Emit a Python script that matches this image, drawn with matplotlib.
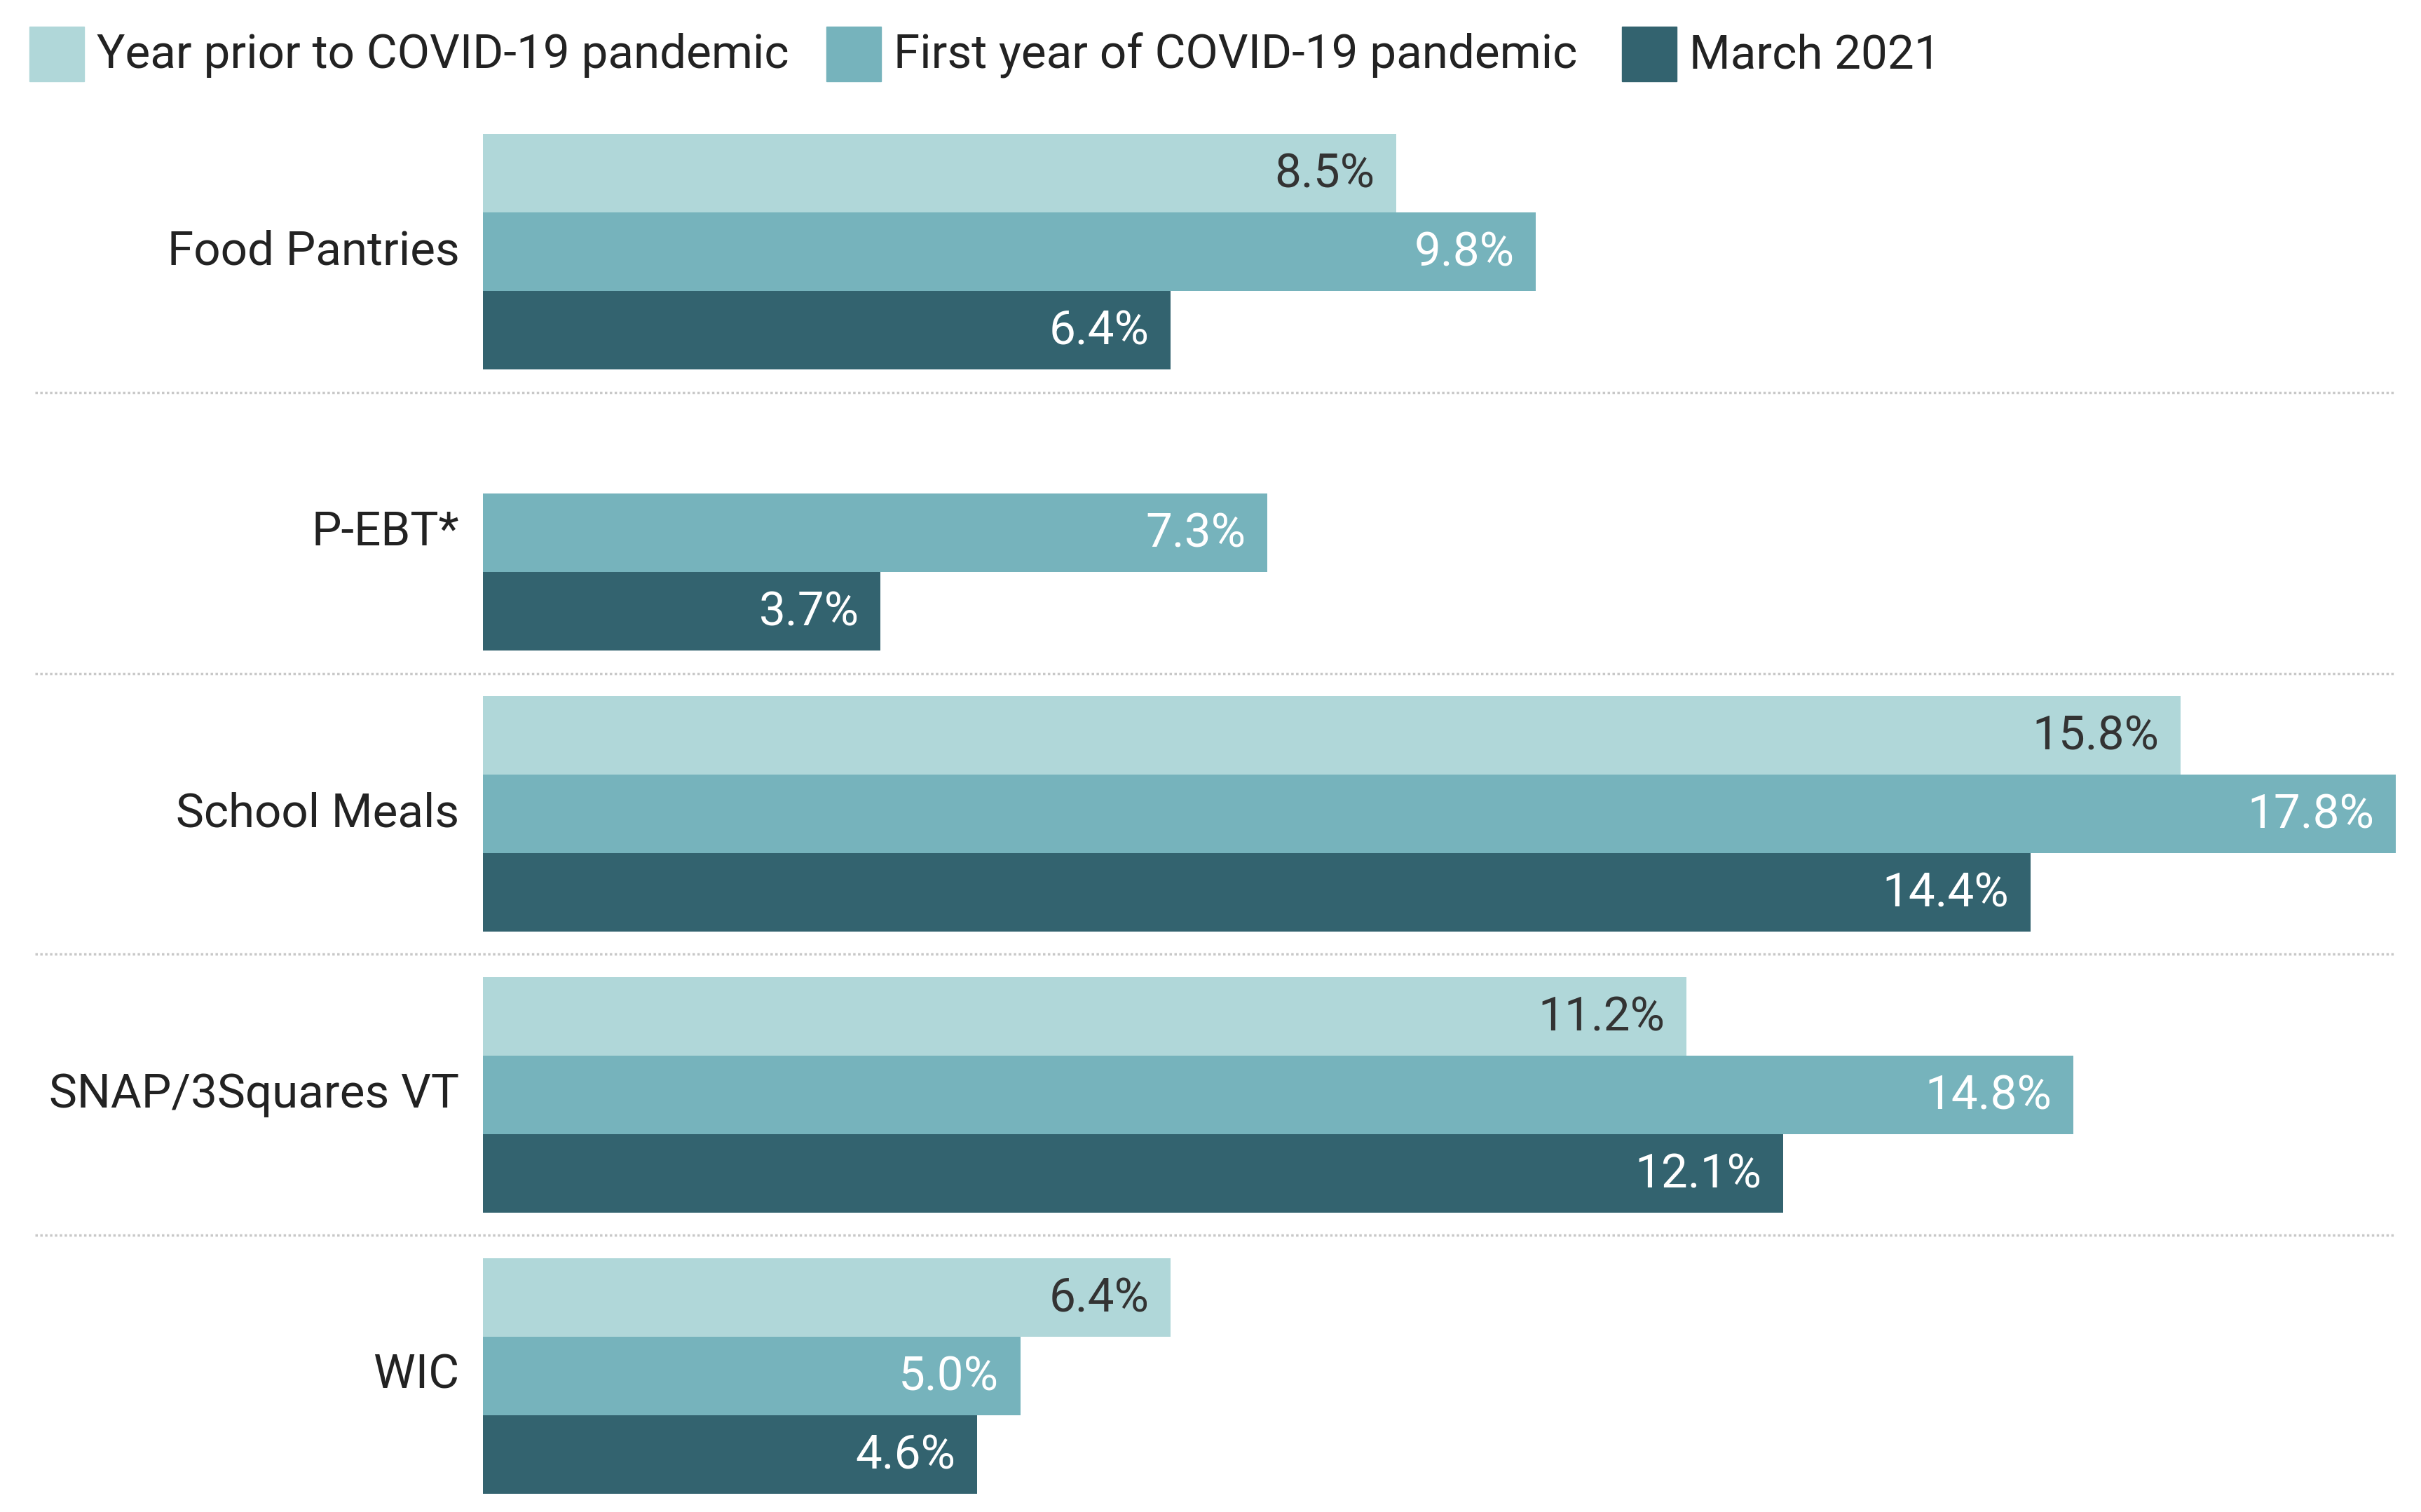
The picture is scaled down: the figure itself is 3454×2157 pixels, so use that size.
import numpy as np
import matplotlib
matplotlib.use("Agg")
import matplotlib.pyplot as plt
from matplotlib.patches import Rectangle

plt.rcParams['font.family'] = ['Roboto', 'DejaVu Sans']

# data
programs = ['Food Pantries', 'P-EBT*', 'School Meals', 'SNAP/3Squares VT', 'WIC']
series = ['Year prior to COVID-19 pandemic', 'First year of COVID-19 pandemic', 'March 2021']
prior_year = [8.5, np.nan, 15.8, 11.2, 6.4]
first_year = [9.8, 7.3, 17.8, 14.8, 5.0]
march_2021 = [6.4, 3.7, 14.4, 12.1, 4.6]

colors = ['#b0d7d9', '#76b3bc', '#33636f']
label_colors = ['#333333', 'white', 'white']

W, H = 3455, 2157
fig = plt.figure(figsize=(W / 100, H / 100), dpi=100)
# axes placed in pixel terms of the reference
ax_left, ax_right, ax_top, ax_bot = 689, 3418, 191, 2131
ax = fig.add_axes([ax_left / W, 1 - ax_bot / H, (ax_right - ax_left) / W, (ax_bot - ax_top) / H])

pitch = 3.58
fs = 48.5
vals = [prior_year, first_year, march_2021]
for g in range(len(programs)):
    base = g * pitch
    for k in range(3):
        v = vals[k][g]
        if np.isnan(v):
            continue
        y = base + k + 0.5
        ax.barh(y, v, height=1.0, color=colors[k], edgecolor='none')
        ax.text(v - 0.2, y + 0.02, f'{v:.1f}%', ha='right', va='center',
                fontsize=fs, color=label_colors[k])
    ax.text(-0.22, base + 1.5, programs[g], ha='right', va='center',
            fontsize=fs, color='#222222')
    if g < len(programs) - 1:
        ys = base + 3 + (pitch - 3) / 2
        ax.plot([-4.17, 17.8], [ys, ys], color='#c8c8c8', lw=2.5,
                linestyle=(0, (1, 1)), clip_on=False)

ax.set_xlim(0, 17.8)
ax.set_ylim((len(programs) - 1) * pitch + 3, 0)
ax.axis('off')

# legend drawn by hand
sw_x = [42, 1179, 2314]
for k in range(3):
    fig.patches.append(Rectangle((sw_x[k] / W, 1 - 116 / H), 78 / W, 78 / H,
                                 transform=fig.transFigure, color=colors[k]))
    fig.text((sw_x[k] + 96) / W, 1 - 79 / H, series[k], ha='left', va='center',
             fontsize=fs, color='#222222')

fig.savefig('out.png', dpi=100, facecolor='white')
